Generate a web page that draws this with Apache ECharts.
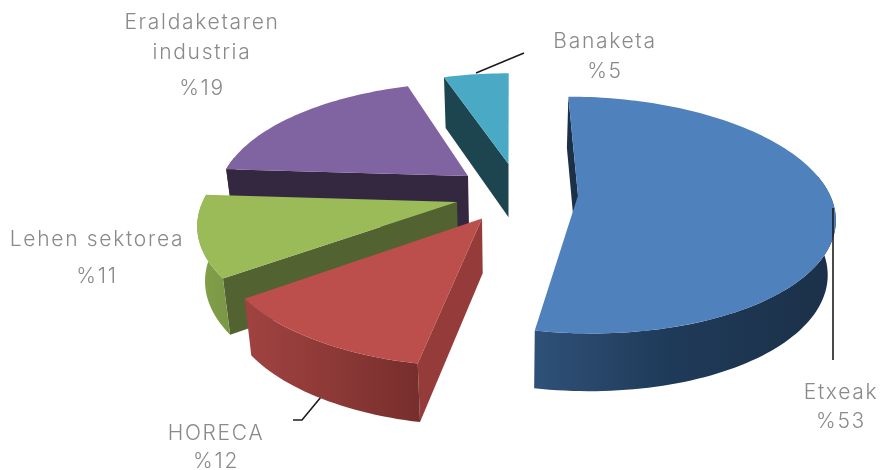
<!DOCTYPE html>
<html><head><meta charset="utf-8">
<style>html,body{margin:0;padding:0;background:#fff}#c{width:880px;height:470px}</style>
<script src="https://cdn.jsdelivr.net/npm/echarts@6/dist/echarts.min.js"></script>
</head><body><div id="c"></div>
<script>
// --- data ---
const categories = ['Etxeak', 'HORECA', 'Lehen sektorea', 'Eraldaketaren\nindustria', 'Banaketa'];
const values = [53, 12, 11, 19, 5];

// --- layout and style of the 3D projection ---
const CX = 510, CY = 195, RX = 252, RY = 115, PERSP = 0.165, DEPTH = 54, BOTTOM_X = 0.975;
const apexX = [578, 482, 457, 468, 508.5];
const apexY = [195.5, 218.5, 202, 176, 164];
const paintOrder = [5, 4, 3, 2, 1];
const topColors = ['#4f81bd', '#bc4e4b', '#9bbb59', '#8063a1', '#4aa9c5'];
const sideColors = ['#1c3148', '#953b39', '#526230', '#342840', '#1d454f'];
const rimColors = [['#2f5178', '#1f3a59', '#1c3048'], ['#a04341', '#8f3a38', '#762e2c'], ['#84a24b', '#7f9c48', '#7a9744'], ['#342840', '#342840', '#342840'], ['#1d454f', '#1d454f', '#1d454f']];
const labelX = [841, 216, 97, 202, 605];
const labelY = [[393], [434], [240], [23, 53], [42]];
const pctY = [422, 462, 277, 89, 72];
const leaders = [[[833, 208], [833, 360]], [[293, 420], [302, 420], [321, 397]], null, null, [[476, 73], [524, 53]]];
const TEXT = '#8a8a8a', FONT = 'Inter', FONT_SIZE = 21, LETTER_SPACING = '1.7px';

// the reference's labels are widely tracked: apply the spacing when text is painted
const fillTextOriginal = CanvasRenderingContext2D.prototype.fillText;
CanvasRenderingContext2D.prototype.fillText = function (...args) {
  this.letterSpacing = LETTER_SPACING;
  fillTextOriginal.apply(this, args);
};

// pixel apex -> offset of each exploded slice on the pie's plane
const explodeV = apexY.map(y => { const t = (y - CY) / RY; return t / (1 + PERSP * t); });
const explodeU = apexX.map((x, i) => (x - CX) * (1 - PERSP * explodeV[i]) / RX);

const total = values.reduce((a, b) => a + b, 0);
const project = (i, r, deg, low) => {
  const t = deg * Math.PI / 180;
  const U = explodeU[i] + r * Math.sin(t), V = explodeV[i] - r * Math.cos(t);
  const w = 1 / (1 - PERSP * V);
  let x = CX + RX * U * w, y = CY + RY * V * w;
  if (low) { x = CX + (x - CX) * BOTTOM_X; y += DEPTH * (1 + 0.35 * (w - 1)); }
  return [x, y];
};
const arc = (i, a0, a1, low) => {
  const n = Math.max(2, Math.ceil(Math.abs(a1 - a0) / 1.5)), out = [];
  for (let k = 0; k <= n; k++) out.push(project(i, 1, a0 + (a1 - a0) * k / n, low));
  return out;
};

function renderItem(params, api) {
  const i = params.dataIndex;
  let before = 0;
  for (let k = 0; k < i; k++) before += values[k];
  const a0 = before / total * 360, a1 = (before + api.value(0)) / total * 360;
  const z = paintOrder[i] * 10, children = [];
  children.push({ type: 'polygon', z2: z, silent: true,
    shape: { points: [project(i, 0, a0, false), project(i, 1, a0, false), project(i, 1, a0, true), project(i, 0, a0, true)] },
    style: { fill: sideColors[i] } });
  const r0 = Math.max(a0, 80), r1 = Math.min(a1, 280);
  if (r1 > r0) {
    const top = arc(i, r0, r1, false), low = arc(i, r0, r1, true).reverse();
    const rc = rimColors[i];
    children.push({ type: 'polygon', z2: z + 1, silent: true,
      shape: { points: top.concat(low) },
      style: { fill: { type: 'linear', x: 0, y: 0, x2: 1, y2: 0, colorStops:
        [{ offset: 0, color: rc[0] }, { offset: .45, color: rc[1] }, { offset: 1, color: rc[2] }] } } });
  }
  children.push({ type: 'polygon', z2: z + 2, silent: true,
    shape: { points: [project(i, 0, a0, false)].concat(arc(i, a0, a1, false)) },
    style: { fill: topColors[i] } });
  if (leaders[i]) children.push({ type: 'polyline', z2: i === 0 ? 100 : 0, silent: true,
    shape: { points: leaders[i] }, style: { stroke: '#1c1c1c', lineWidth: 1.6, fill: null } });
  categories[i].split('\n').forEach((line, k) => children.push({ type: 'text', z2: 101, silent: true,
    style: { text: line, x: labelX[i], y: labelY[i][k], align: 'center', verticalAlign: 'middle',
      fill: TEXT, fontFamily: FONT, fontWeight: 300, fontSize: FONT_SIZE } }));
  children.push({ type: 'text', z2: 101, silent: true,
    style: { text: '%' + api.value(0), x: labelX[i], y: pctY[i], align: 'center', verticalAlign: 'middle',
      fill: TEXT, fontFamily: FONT, fontWeight: 300, fontSize: FONT_SIZE } });
  return { type: 'group', children };
}

const chart = echarts.init(document.getElementById('c'), null, { renderer: 'canvas' });
chart.setOption({
  backgroundColor: '#ffffff',
  animation: false,
  series: [{ type: 'custom', coordinateSystem: 'none', renderItem, clip: false,
    data: values.map((v, i) => ({ name: categories[i], value: [v] })) }]
});
</script></body></html>
